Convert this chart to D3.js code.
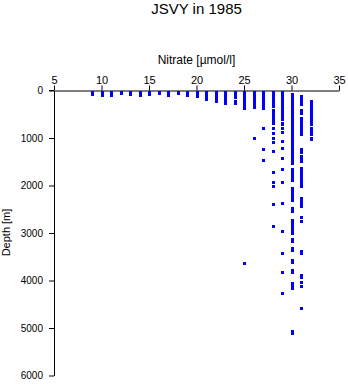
<!DOCTYPE html>
<html>
<head>
<meta charset="utf-8">
<script src="https://cdn.jsdelivr.net/npm/d3@7"></script>
<style>
  html, body { margin: 0; padding: 0; background: #fff; }
  svg { display: block; }
  text { font-family: "Liberation Sans", Arial, Helvetica, sans-serif; fill: #000; }
</style>
</head>
<body>
<svg id="chart" width="348" height="384"></svg>
<script>
// ---- Data (nitrate column value -> sampled depths in m) ----
const title = "JSVY in 1985";
const xLabel = "Nitrate [\u00b5mol/l]";
const yLabel = "Depth [m]";
const xTicks = [5, 10, 15, 20, 25, 30, 35];
const yTicks = [0, 1000, 2000, 3000, 4000, 5000, 6000];

const nitrate9  = [0, 10, 20, 30, 50];
const nitrate10 = [0, 10, 20, 30, 50, 75];
const nitrate11 = [0, 10, 20, 30, 50, 75];
const nitrate12 = [0, 10, 25];
const nitrate13 = [0, 10, 20, 30, 50];
const nitrate14 = [0, 10, 20, 30, 50, 75];
const nitrate15 = [10, 20, 30, 50];
const nitrate16 = [0, 10, 25];
const nitrate17 = [0, 10, 20, 30, 50, 75];
const nitrate18 = [0, 10, 20, 40];
const nitrate19 = [0, 10, 20, 30, 50, 75];
const nitrate20 = [0, 10, 20, 30, 50, 75, 100];
const nitrate21 = [0, 10, 20, 30, 50, 75, 100, 125, 150];
const nitrate22 = [0, 10, 20, 30, 50, 75, 100, 125, 150, 175, 190];
const nitrate23 = [0, 10, 20, 30, 50, 75, 100, 125, 150, 175, 200, 235];
const nitrate24 = [0, 10, 20, 30, 50, 75, 100, 125, 190, 220, 250];
const nitrate25 = [0, 10, 20, 30, 50, 75, 100, 125, 150, 175, 200, 225, 250, 275, 300, 340, 3620];
const nitrate26 = [0, 10, 20, 30, 50, 75, 100, 125, 150, 200, 220, 250, 310, 335, 970];
const nitrate27 = [0, 10, 20, 30, 50, 75, 100, 125, 150, 175, 200, 250, 300, 340, 760, 1210, 1450];
const nitrate28 = [0, 25, 50, 75, 100, 125, 150, 175, 200, 250, 300, 380, 420, 480, 520, 570, 600,
                   655, 760, 865, 970, 1065, 1250, 1690, 1900, 1985, 2375, 2835];
const nitrate29 = [0, 25, 50, 75, 100, 125, 150, 175, 200, 250, 300, 350, 400, 450, 500, 550, 585,
                   660, 690, 760, 855, 1045, 1185, 1395, 1635, 1900, 2345, 2940, 3390, 3800, 4235];
const nitrate30 = [45, 75, 100, 125, 150, 200, 250, 300, 350, 400, 450, 500, 550, 600, 650, 690,
                   725, 775, 825, 865, 915, 960, 1000, 1040, 1075, 1100, 1170, 1210, 1250, 1300, 1345,
                   1385, 1425, 1465, 1500, 1635, 1685, 1735, 1780, 1820, 1865, 2030, 2070, 2110, 2150,
                   2195, 2235, 2275, 2450, 2510, 2705, 2745, 2790, 2840, 2895, 2945, 2985, 3100, 3150,
                   3285, 3345, 3550, 3590, 3760, 3810, 4030, 4080, 4135, 5050, 5085];
const nitrate31 = [95, 125, 150, 175, 200, 225, 270, 390, 445, 550, 600, 650, 700, 750, 800, 850, 900,
                   1215, 1265, 1365, 1415, 1460, 1600, 1655, 1710, 1740, 1800, 1855, 1890, 1940, 1995,
                   2250, 2290, 2330, 2365, 2415, 2650, 2720, 3350, 3405, 3860, 3895, 4015, 4090, 4565];
const nitrate32 = [200, 250, 300, 350, 400, 450, 500, 550, 600, 620, 660, 690, 765, 800, 830,
                   870, 900, 975, 1005];

const columns = [
  [9, nitrate9], [10, nitrate10], [11, nitrate11], [12, nitrate12], [13, nitrate13],
  [14, nitrate14], [15, nitrate15], [16, nitrate16], [17, nitrate17], [18, nitrate18],
  [19, nitrate19], [20, nitrate20], [21, nitrate21], [22, nitrate22], [23, nitrate23],
  [24, nitrate24], [25, nitrate25], [26, nitrate26], [27, nitrate27], [28, nitrate28],
  [29, nitrate29], [30, nitrate30], [31, nitrate31], [32, nitrate32]
];
const points = columns.flatMap(([n, ds]) => ds.map(d => ({ n, d })));

// ---- Drawing ----
const svg = d3.select("#chart");
const x = d3.scaleLinear().domain([5, 35]).range([54, 339]);
const y = d3.scaleLinear().domain([0, 6000]).range([90.5, 375.5]);

svg.append("text")
  .attr("x", 196.5).attr("y", 13.5)
  .attr("text-anchor", "middle")
  .style("font-size", "15px")
  .text(title);

svg.append("text")
  .attr("x", 196.5).attr("y", 63.5)
  .attr("text-anchor", "middle")
  .style("font-size", "12px")
  .text(xLabel);

svg.append("text")
  .attr("transform", "translate(10,232.5) rotate(-90)")
  .attr("text-anchor", "middle")
  .style("font-size", "11px")
  .text(yLabel);

const xAxis = svg.append("g")
  .attr("transform", "translate(0,90.5)")
  .call(d3.axisTop(x).tickValues(xTicks).tickSize(5).tickPadding(2).tickSizeOuter(0));
xAxis.selectAll("text").style("font-size", "11px").attr("fill", "#000");

const yAxis = svg.append("g")
  .attr("transform", "translate(54,0)")
  .call(d3.axisLeft(y).tickValues(yTicks).tickSize(5).tickPadding(6).tickSizeOuter(0).tickFormat(d3.format("d")));
yAxis.selectAll("text").style("font-size", "10px").attr("fill", "#000");

svg.selectAll(".domain, .tick line").attr("stroke", "#000").attr("stroke-width", 1);
// extend x axis line left to the 0 tick
svg.append("line").attr("x1", 49).attr("x2", 54).attr("y1", 90.5).attr("y2", 90.5).attr("stroke", "#000");

svg.append("g")
  .selectAll("rect")
  .data(points)
  .join("rect")
  .attr("x", p => Math.round(x(p.n)) - 1)
  .attr("y", p => Math.round(y(p.d)))
  .attr("width", 3)
  .attr("height", 3)
  .attr("fill", "#0000ff");
</script>
</body>
</html>
